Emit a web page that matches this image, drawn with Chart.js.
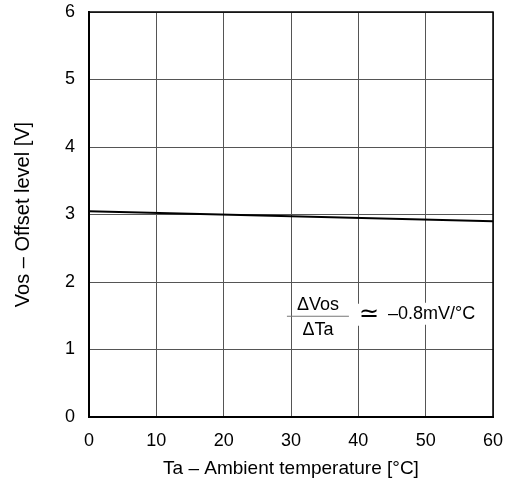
<!DOCTYPE html>
<html>
<head>
<meta charset="utf-8">
<script src="https://cdn.jsdelivr.net/npm/chart.js@4/dist/chart.umd.min.js"></script>
<style>
  html, body { margin: 0; padding: 0; background: #fff; }
  #wrap { width: 509px; height: 481px; }
</style>
</head>
<body>
<div id="wrap"><canvas id="chart" width="509" height="481"></canvas></div>
<script>
// Ta [°C] vs Vos [V], straight line
const temps = [0, 60];
const offsets = [3.05, 2.9];

const xTicks = [0, 10, 20, 30, 40, 50, 60];
const yTicks = [0, 1, 2, 3, 4, 5, 6];

const FONT = "'Liberation Sans', Arial, sans-serif";

// annotation: dVos/dTa ≃ -0.8mV/°C, placed in data units
const noteX = 34.0;
const noteY = 1.5;

const annotationPlugin = {
  id: "note",
  afterDraw(chart) {
    const { ctx, scales } = chart;
    const cx = scales.x.getPixelForValue(noteX);
    const cy = scales.y.getPixelForValue(noteY);
    ctx.save();
    ctx.textBaseline = "middle";

    const label = (txt, x, y, align, size) => {
      ctx.font = (size || 18) + "px " + FONT;
      ctx.textAlign = align;
      const w = ctx.measureText(txt).width;
      const x0 = align === "center" ? x - w / 2 : x;
      ctx.fillStyle = "#fff";
      ctx.fillRect(x0 - 2, y - 11, w + 4, 22);
      ctx.fillStyle = "#000";
      ctx.fillText(txt, x, y);
    };

    label("\u0394Vos", cx, cy - 11, "center");
    label("\u0394Ta", cx, cy + 14, "center");

    ctx.strokeStyle = "#777";
    ctx.lineWidth = 1;
    ctx.beginPath();
    ctx.moveTo(cx - 31, cy + 0.5);
    ctx.lineTo(cx + 31, cy + 0.5);
    ctx.stroke();

    label("\u2243", cx + 51, cy - 1, "center", 24);
    label("\u20130.8mV/\u00B0C", cx + 70, cy - 2, "left");
    ctx.restore();
  }
};

new Chart(document.getElementById("chart"), {
  type: "scatter",
  data: {
    datasets: [{
      data: temps.map((t, i) => ({ x: t, y: offsets[i] })),
      showLine: true,
      borderColor: "#000",
      borderWidth: 2,
      pointRadius: 0
    }]
  },
  options: {
    responsive: false,
    animation: false,
    events: [],
    layout: { padding: { left: 0, top: 12, right: 16, bottom: 0 } },
    plugins: { legend: { display: false }, tooltip: { enabled: false } },
    scales: {
      x: {
        type: "linear",
        min: 0, max: 60,
        afterFit(s) { s.height = 64; s.paddingLeft = 0; s.paddingRight = 0; },
        afterBuildTicks(s) { s.ticks = xTicks.map(v => ({ value: v })); },
        grid: { color: "#555", lineWidth: 1, drawTicks: false },
        border: { color: "#000", width: 2 },
        ticks: { color: "#000", font: { family: FONT, size: 18 }, padding: 13, maxRotation: 0 },
        title: {
          display: true, text: "Ta \u2013 Ambient temperature [\u00B0C]",
          color: "#000", font: { family: FONT, size: 19 }, padding: { top: 0, bottom: 1 }
        }
      },
      y: {
        min: 0, max: 6,
        afterFit(s) { s.width = 89; s.paddingTop = 0; s.paddingBottom = 0; },
        afterBuildTicks(s) { s.ticks = yTicks.map(v => ({ value: v })); },
        grid: { color: "#555", lineWidth: 1, drawTicks: false },
        border: { color: "#000", width: 2 },
        ticks: { color: "#000", font: { family: FONT, size: 18 }, padding: 14 },
        title: {
          display: true, text: "Vos \u2013 Offset level [V]",
          color: "#000", font: { family: FONT, size: 20 }, padding: { top: 11, bottom: 0 }
        }
      }
    }
  },
  plugins: [annotationPlugin, {
    id: "frame",
    afterDraw(chart) {
      const { ctx, chartArea: a } = chart;
      ctx.save();
      ctx.strokeStyle = "#000";
      ctx.lineWidth = 1.5;
      ctx.strokeRect(a.left, a.top, a.right - a.left, a.bottom - a.top);
      ctx.restore();
    }
  }]
});
</script>
</body>
</html>
